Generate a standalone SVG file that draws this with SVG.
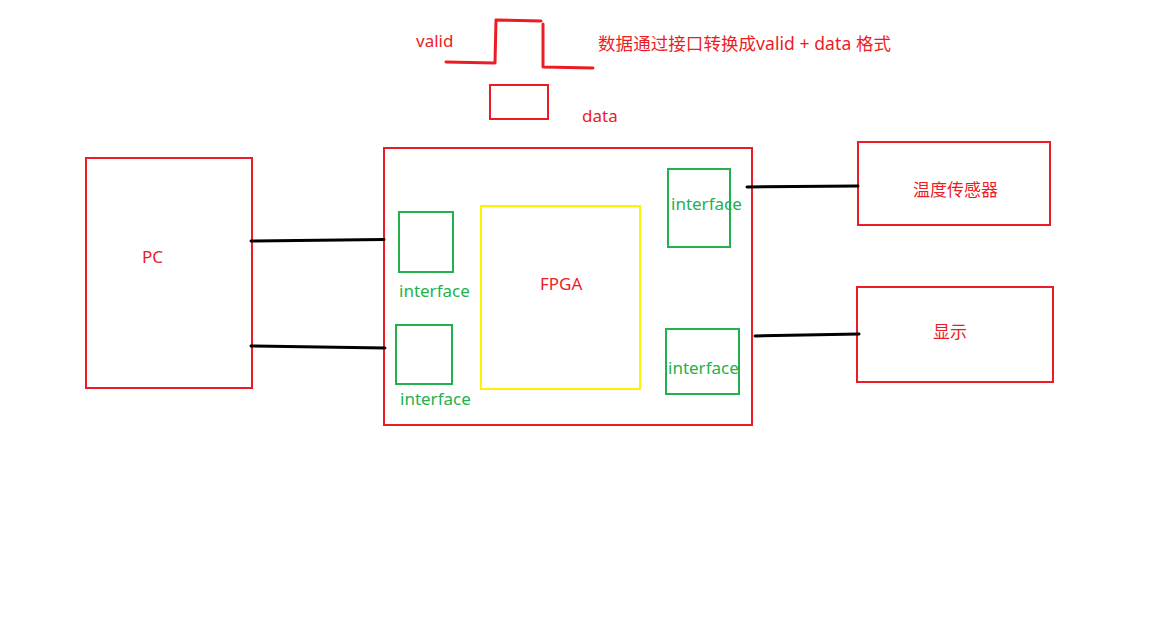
<svg xmlns="http://www.w3.org/2000/svg" width="1163" height="621" viewBox="0 0 1163 621">
<style>
.red{fill:none;stroke:#ED1C24;stroke-width:2}
.grn{fill:none;stroke:#22B14C;stroke-width:2}
.yel{fill:none;stroke:#FFF200;stroke-width:2}
.wire{fill:none;stroke:#000;stroke-width:3;stroke-linecap:round}
.wave{fill:none;stroke:#ED1C24;stroke-width:3;stroke-linecap:round;stroke-linejoin:round}
text{font-family:"Noto Sans","Noto Sans CJK SC",sans-serif;font-size:17px}
.tr{fill:#ED1C24}
.tg{fill:#22B14C}
</style>
<rect width="1163" height="621" fill="#fff"/>
<g id="signal">
<polyline class="wave" points="446,62 495,63 496,20 541,21"/>
<polyline class="wave" points="543,24 543,67 593,68"/>
<text class="tr" x="416" y="47">valid</text>
<text class="tr" x="598" y="50" style="font-size:17.5px" textLength="293" lengthAdjust="spacing">数据通过接口转换成valid + data 格式</text>
</g>
<g id="data">
<rect class="red" x="490" y="85" width="58" height="34"/>
<text class="tr" x="582" y="122">data</text>
</g>
<g id="pc">
<rect class="red" x="86" y="158" width="166" height="230"/>
<text class="tr" x="142" y="263">PC</text>
</g>
<g id="fpga-board">
<rect class="red" x="384" y="148" width="368" height="277"/>
</g>
<g id="fpga">
<rect class="yel" x="481" y="206" width="159" height="183"/>
<text class="tr" x="540" y="290">FPGA</text>
</g>
<g id="if-left-top">
<rect class="grn" x="399" y="212" width="54" height="60"/>
<text class="tg" x="399" y="297">interface</text>
</g>
<g id="if-left-bottom">
<rect class="grn" x="396" y="325" width="56" height="59"/>
<text class="tg" x="400" y="405">interface</text>
</g>
<g id="if-right-top">
<rect class="grn" x="668" y="169" width="62" height="78"/>
<text class="tg" x="671" y="210">interface</text>
</g>
<g id="if-right-bottom">
<rect class="grn" x="666" y="329" width="73" height="65"/>
<text class="tg" x="668" y="374">interface</text>
</g>
<g id="sensor">
<rect class="red" x="858" y="142" width="192" height="83"/>
<text class="tr" x="913" y="196">温度传感器</text>
</g>
<g id="display">
<rect class="red" x="857" y="287" width="196" height="95"/>
<text class="tr" x="933" y="338">显示</text>
</g>
<g id="connectors">
<line class="wire" x1="251" y1="241" x2="384" y2="239.5"/>
<line class="wire" x1="251" y1="346" x2="385" y2="348"/>
<line class="wire" x1="747" y1="187" x2="858" y2="186"/>
<line class="wire" x1="755" y1="336" x2="859" y2="334"/>
</g>
</svg>
